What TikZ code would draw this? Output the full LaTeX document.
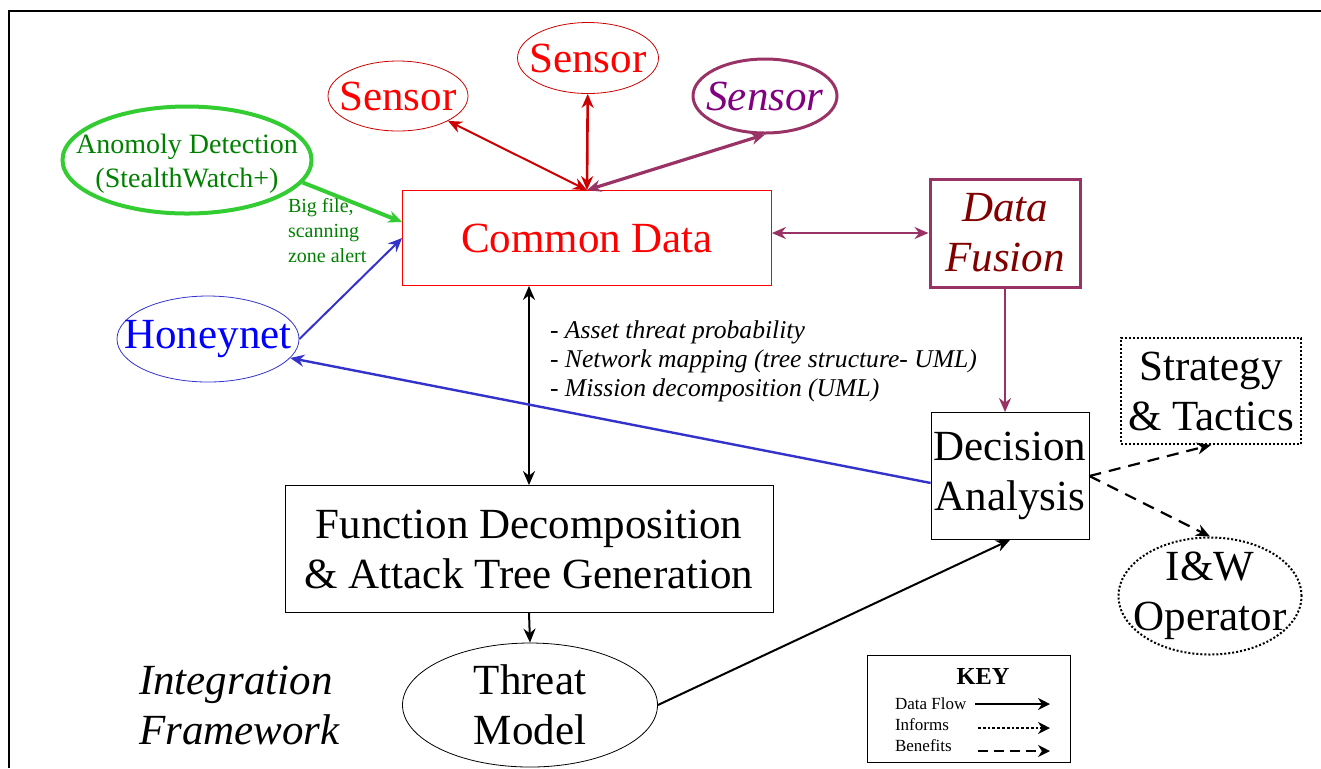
\documentclass[tikz,border=0pt]{standalone}
\usepackage{fontspec}
\setmainfont{Liberation Serif}
\usetikzlibrary{shapes.geometric,arrows.meta}
\definecolor{sred}{HTML}{CC0000}
\definecolor{purp}{HTML}{993366}
\definecolor{ptext}{HTML}{800080}
\definecolor{ftext}{HTML}{800000}
\definecolor{gline}{HTML}{33CC33}
\definecolor{gtext}{HTML}{008000}
\definecolor{bline}{HTML}{3333CC}
\tikzset{
  big/.style={font=\fontsize{21.5}{25}\selectfont},
  bigit/.style={font=\fontsize{21.5}{25}\selectfont\itshape},
  oval/.style={ellipse,draw,inner sep=0pt},
  box/.style={rectangle,draw,inner sep=0pt,align=center},
  longdash/.style={dash pattern=on 6pt off 4pt},
  keydash/.style={dash pattern=on 5pt off 3pt},
  tip/.style={-{Stealth[length=7pt,width=6pt]}},
  twotip/.style={{Stealth[length=7pt,width=6pt]}-{Stealth[length=7pt,width=6pt]}}
}
\begin{document}
\begin{tikzpicture}[x=0.5pt,y=-0.5pt]
\useasboundingbox (0,0) rectangle (1321,768);
\draw[line width=1pt] (1321,11) -- (9,11) -- (9,768);
% sensors, detectors
\node[oval,sred,minimum width=70pt,minimum height=35pt,label={[red,big]center:Sensor}] (sensA) at (398,96) {};
\node[oval,sred,minimum width=70.5pt,minimum height=35.5pt,label={[red,big]center:Sensor}] (sensB) at (588,58) {};
\node[oval,purp,line width=1.5pt,minimum width=72pt,minimum height=37pt,label={[ptext,bigit]center:Sensor}] (sensC) at (765,96) {};
\node[oval,gline,line width=2pt,minimum width=124.5pt,minimum height=53.5pt,
  label={[gtext,align=center,yshift=-2pt,font=\fontsize{14}{17}\selectfont]center:Anomoly Detection\\(StealthWatch+)}] (anomaly) at (187,160) {};
\node[oval,bline,minimum width=91pt,minimum height=43pt,label={[blue,big]center:Honeynet}] (honey) at (208,339) {};
\node[gtext,align=left,anchor=west,font=\fontsize{10}{12.5}\selectfont] (alert) at (281,231) {Big file,\\scanning\\zone alert};
% main boxes
\node[box,red,big,minimum width=184.5pt,minimum height=47.5pt] (common) at (587,238) {Common Data};
\node[box,purp,line width=1.5pt,text=ftext,bigit,minimum width=75pt,minimum height=54pt] (fusion) at (1005,233) {Data\\Fusion};
\node[box,big,minimum width=79pt,minimum height=63.5pt] (decision) at (1010,476) {Decision\\Analysis};
\node[box,densely dotted,line width=1pt,big,minimum width=90pt,minimum height=53pt] (strategy) at (1211,391) {Strategy\\\& Tactics};
\node[oval,densely dotted,line width=1pt,minimum width=91.5pt,minimum height=58.5pt,
  label={[big,align=center]center:I\&W\\Operator}] (iw) at (1210,596) {};
\node[box,big,minimum width=244pt,minimum height=63.5pt] (func) at (529,549) {Function Decomposition\\\& Attack Tree Generation};
\node[oval,minimum width=127.5pt,minimum height=62pt,label={[big,align=center]center:Threat\\Model}] (threat) at (530,705) {};
\node[anchor=west,align=left,font=\fontsize{12.8}{14.5}\selectfont\itshape] (items) at (543,361)
  {- Asset threat probability\\- Network mapping (tree structure- UML)\\- Mission decomposition (UML)};
\node[anchor=west,align=left,bigit] (title) at (132,705) {Integration\\Framework};
% connectors
\draw[sred,line width=1pt,twotip] (sensA) -- (common.north);
\draw[sred,line width=1.3pt,twotip] (sensB) -- (common.north);
\draw[purp,line width=1.6pt,twotip] (sensC.south) -- (common.north);
\draw[gline,line width=2pt,tip] (anomaly.-11) -- ([yshift=8pt]common.west);
\draw[bline,line width=1pt,tip] (honey.east) -- (common.west);
\draw[purp,line width=1.3pt,twotip] (fusion.west -| common.east) -- (fusion.west);
\draw[purp,line width=1.2pt,tip] (fusion.south) -- (fusion.south |- decision.north);
\draw[line width=1pt,twotip] (func.north |- common.south) -- (func.north);
\draw[line width=1pt,tip] (func.south) -- (threat.north);
\draw[line width=1pt,tip] (threat.east) -- (decision.south);
\draw[bline,line width=1.2pt,tip] (decision.-175) -- (honey.-13);
\draw[longdash,line width=1.1pt,tip] (decision.east) -- (strategy.south);
\draw[longdash,line width=1.1pt,tip] (decision.east) -- (iw.north);
% key
\node[box,minimum width=101.5pt,minimum height=53.5pt] (key) at (968.5,708.5) {};
\node[font=\fontsize{12.2}{14}\selectfont\bfseries] (keytitle) at (983,676) {KEY};
\foreach \t/\ty/\ay/\s/\x in {Data Flow/704/704/solid/975,Informs/725/728/densely dotted/978,Benefits/746/751/keydash/978}{
  \node[anchor=west,font=\fontsize{8.5}{10}\selectfont] at (888,\ty) {\t};
  \path (\x,\ay) coordinate (ks) (1050,\ay) coordinate (ke);
  \draw[\s,line width=1.4pt,-{Stealth[length=6pt,width=6pt]}] (ks) -- (ke);
}
\end{tikzpicture}
\end{document}
